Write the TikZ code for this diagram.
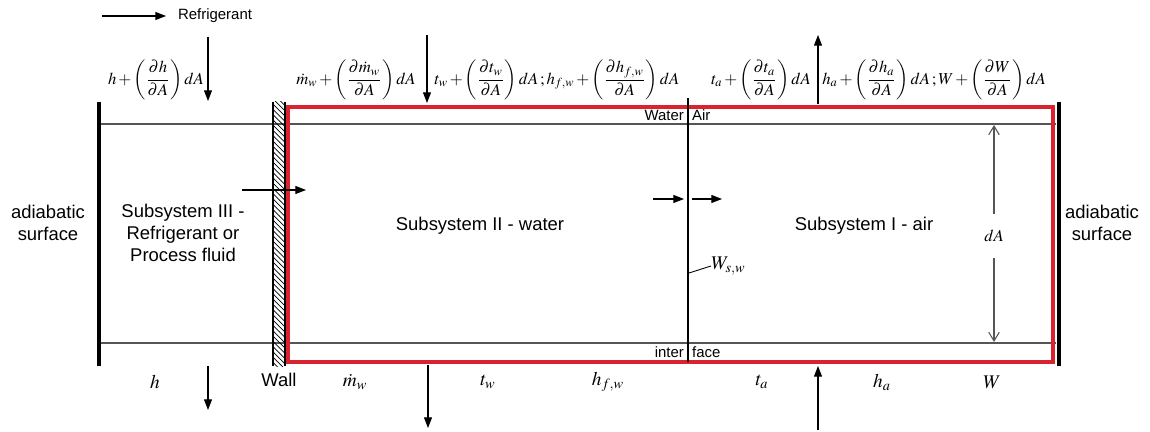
\documentclass[tikz,border=0pt]{standalone}
\usepackage{amsmath}
\usepackage{mathptmx}
\usepackage{fontspec}
\setmainfont{Liberation Sans}
\usetikzlibrary{arrows.meta, patterns}
\definecolor{cvred}{HTML}{D9232E}
\definecolor{lgray}{HTML}{555555}
\newcommand{\fluxfont}{\fontsize{9.5}{11}\selectfont\medmuskip=2mu\relax\thickmuskip=3mu\relax}
\tikzset{
  lbl/.style={font=\fontsize{10.5}{12.4}\selectfont, align=center, inner sep=1pt},
  tag/.style={font=\fontsize{8.5}{10}\selectfont, inner sep=1pt},
  flux/.style={font=\fluxfont, inner sep=0pt},
  sym/.style={font=\fontsize{11}{13}\selectfont, inner sep=0pt},
  adia/.style={line width=2pt, black},
  guide/.style={line width=0.8pt, lgray},
  cvbox/.style={line width=2.2pt, cvred},
  flow/.style={-{Triangle[length=6pt,width=4.5pt]}, line width=0.6pt},
  dimarr/.style={-{Straight Barb[length=5pt,width=6pt]}, line width=0.6pt, lgray},
}

\begin{document}
\begin{tikzpicture}[x=0.02cm, y=-0.02cm]
  \useasboundingbox (0,0) rectangle (1150,432);

  % layers and walls
  \draw[guide] (99,124) -- (1056,124);
  \draw[guide] (99,343) -- (1056,343);
  \fill[pattern=north west lines] (273,102) rectangle (285,366);
  \draw[line width=0.6pt] (273,102) -- (273,366);
  \draw[line width=0.6pt] (285,102) -- (285,366);
  \draw[adia] (99,102) -- (99,366);
  \draw[adia] (1059,102) -- (1059,366);
  \draw[cvbox] (288,107) rectangle (1053,362);
  \draw[line width=0.9pt] (688,98) -- (688,362);

  % labels
  \node[lbl] (adL) at (48,223) {adiabatic\\surface};
  \node[lbl] (adR) at (1102,223) {adiabatic\\surface};
  \node[lbl] (sub3) at (183,233) {Subsystem III -\\Refrigerant or\\Process fluid};
  \node[lbl] (sub2) at (480,226) {Subsystem II - water};
  \node[lbl] (sub1) at (864,226) {Subsystem I - air};

  \node[tag, anchor=east] (water) at (686,115) {Water};
  \node[tag, anchor=west] (air) at (690,115) {Air};
  \node[tag, anchor=east] (inter) at (686,352) {inter};
  \node[tag, anchor=west] (face) at (690,352) {face};

  % legend
  \coordinate (leg-a) at (102,16);
  \coordinate (leg-b) at (166,16);
  \node[tag, anchor=west] (leg) at (176,16) {Refrigerant};
  \draw[flow] (leg-a) -- (leg-b);

  % fluxes in
  \node[flux] (fh) at (156,80) {$h+\left(\dfrac{\partial h}{\partial A}\right)dA$};
  \node[flux] (fmw) at (356,80) {$\dot m_w+\left(\dfrac{\partial \dot m_w}{\partial A}\right)dA$};
  \node[flux] (ftw) at (557,80) {$t_w+\left(\dfrac{\partial t_w}{\partial A}\right)dA\,;h_{f,w}+\left(\dfrac{\partial h_{f,w}}{\partial A}\right)dA$};
  \node[flux] (fta) at (761,80) {$t_a+\left(\dfrac{\partial t_a}{\partial A}\right)dA$};
  \node[flux] (fha) at (934,80) {$h_a+\left(\dfrac{\partial h_a}{\partial A}\right)dA\,;W+\left(\dfrac{\partial W}{\partial A}\right)dA$};

  \coordinate (ref-t) at (208,37);
  \coordinate (ref-b) at (208,101);
  \coordinate (wat-t) at (427,35);
  \coordinate (wat-b) at (427,103);
  \coordinate (air-t) at (818,35);
  \coordinate (air-b) at (818,104);
  \draw[flow] (ref-t) -- (ref-b);
  \draw[flow] (wat-t) -- (wat-b);
  \draw[flow] (air-b) -- (air-t);

  % values at the bottom
  \node[sym] (bh) at (155,382) {$h$};
  \node[lbl] (wall) at (279,380) {Wall};
  \node[sym] (bmw) at (355,382) {$\dot m_w$};
  \node[sym] (btw) at (488,382) {$t_w$};
  \node[sym] (bhf) at (608,382) {$h_{f,w}$};
  \node[sym] (bta) at (762,382) {$t_a$};
  \node[sym] (bha) at (882,382) {$h_a$};
  \node[sym] (bW) at (992,382) {$W$};

  \coordinate (ref-o1) at (208,366);
  \coordinate (ref-o2) at (208,410);
  \coordinate (wat-o1) at (428,365);
  \coordinate (wat-o2) at (428,428);
  \coordinate (air-i1) at (818,430);
  \coordinate (air-i2) at (818,366);
  \draw[flow] (ref-o1) -- (ref-o2);
  \draw[flow] (wat-o1) -- (wat-o2);
  \draw[flow] (air-i1) -- (air-i2);

  % heat and mass across wall and interface
  \coordinate (q-a) at (242,190);
  \coordinate (q-b) at (306,190);
  \coordinate (qw-a) at (653,199);
  \coordinate (qw-b) at (684,199);
  \coordinate (qa-a) at (692,199);
  \coordinate (qa-b) at (722,199);
  \draw[flow] (q-a) -- (q-b);
  \draw[flow] (qw-a) -- (qw-b);
  \draw[flow] (qa-a) -- (qa-b);

  \node[sym, anchor=west] (wsw) at (711,266) {$W_{s,w}$};
  \coordinate (wsw-p) at (689,273);
  \draw[line width=0.5pt] (wsw-p) -- (wsw.west);

  % height of the element
  \node[flux, fill=white, inner xsep=3pt, inner ysep=9pt] (dA) at (994,236) {$dA$};
  \coordinate (dA-t) at (994,125);
  \coordinate (dA-b) at (994,342);
  \draw[dimarr] (dA) -- (dA-t);
  \draw[dimarr] (dA) -- (dA-b);
\end{tikzpicture}
\end{document}
